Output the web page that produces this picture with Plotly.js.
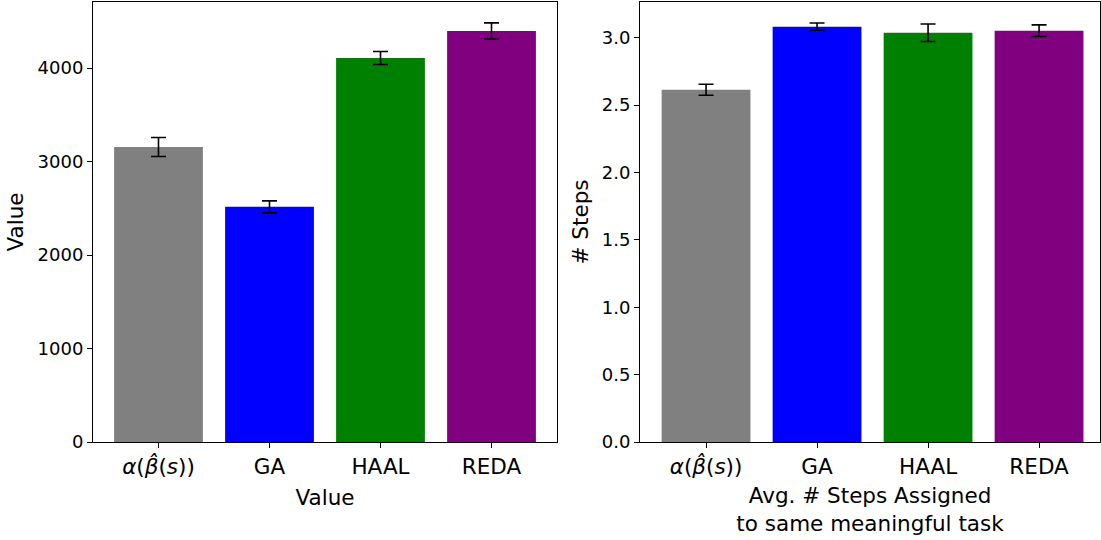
<!DOCTYPE html>
<html><head><meta charset="utf-8">
<script src="https://cdn.plot.ly/plotly-3.0.1.min.js"></script>
<style>html,body{margin:0;padding:0;background:#fff}</style>
</head><body>
<div id="chart" style="width:1101px;height:540px"></div>
<script>
const categories = ["<i>α</i>(<i>β̂</i>(<i>s</i>))", "GA", "HAAL", "REDA"];
const colors = ["gray", "blue", "green", "purple"];
const valueMeans = [3155, 2515, 4107, 4396];
const valueErrs = [102, 64, 70, 87];
const stepsMeans = [2.614, 3.082, 3.037, 3.052];
const stepsErrs = [0.041, 0.027, 0.065, 0.043];
const leftXTitle = "Value";
const leftYTitle = "Value";
const rightXTitle = "Avg. # Steps Assigned<br>to same meaningful task";
const rightYTitle = "# Steps";

const idx = categories.map((_, i) => i);
const yTickFont = {family: "DejaVu Sans", size: 18, color: "#000"};
const xTickFont = {family: "DejaVu Sans", size: 21.5, color: "#000"};
const titleFont = {family: "DejaVu Sans", size: 21.5, color: "#000"};
const errStyle = (arr) => ({type: "data", array: arr, visible: true, color: "#000", thickness: 1.6, width: 7.5});

const traces = [
  {type: "bar", x: idx, y: valueMeans, marker: {color: colors, line: {width: 0}}, width: 0.8,
   error_y: errStyle(valueErrs), xaxis: "x", yaxis: "y", hoverinfo: "none"},
  {type: "bar", x: idx, y: stepsMeans, marker: {color: colors, line: {width: 0}}, width: 0.8,
   error_y: errStyle(stepsErrs), xaxis: "x2", yaxis: "y2", hoverinfo: "none"}
];

const axCommon = {showgrid: false, zeroline: false, showline: true, linecolor: "#000", linewidth: 1,
  mirror: true, ticks: "outside", ticklen: 5, tickwidth: 1, tickcolor: "#000"};

const W = 1101;
const layout = {
  width: 1101, height: 540, showlegend: false,
  paper_bgcolor: "#fff", plot_bgcolor: "#fff",
  font: {family: "DejaVu Sans", size: 18, color: "#000"},
  margin: {l: 0, r: 0, t: 2, b: 98},
  xaxis: Object.assign({}, axCommon, {domain: [93/W, 557/W], range: [-0.59, 3.59],
    tickvals: idx, ticktext: categories, anchor: "y", tickfont: xTickFont,
    title: {text: leftXTitle, font: titleFont, standoff: 12}}),
  yaxis: Object.assign({}, axCommon, {range: [0, 4706], tickvals: [0, 1000, 2000, 3000, 4000],
    ticktext: ["0", "1000", "2000", "3000", "4000"], anchor: "x", tickfont: yTickFont,
    title: {text: leftYTitle, font: titleFont, standoff: 8}}),
  xaxis2: Object.assign({}, axCommon, {domain: [640/W, 1100/W], range: [-0.595, 3.549],
    tickvals: idx, ticktext: categories, anchor: "y2", tickfont: xTickFont,
    title: {text: rightXTitle, font: titleFont, standoff: 10}}),
  yaxis2: Object.assign({}, axCommon, {range: [0, 3.265], tickvals: [0, 0.5, 1, 1.5, 2, 2.5, 3],
    ticktext: ["0.0", "0.5", "1.0", "1.5", "2.0", "2.5", "3.0"], anchor: "x2", tickfont: yTickFont,
    title: {text: rightYTitle, font: titleFont, standoff: 7}})
};

Plotly.newPlot("chart", traces, layout, {displayModeBar: false, staticPlot: true});
</script>
</body></html>
